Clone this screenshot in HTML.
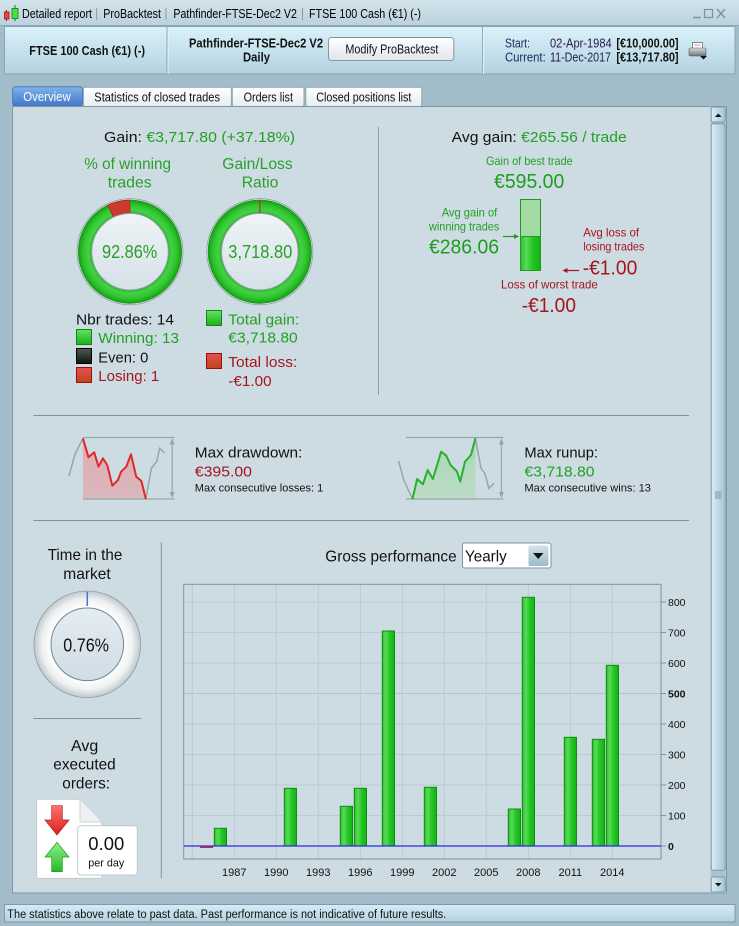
<!DOCTYPE html>
<html><head><meta charset="utf-8">
<style>
html,body{margin:0;padding:0;background:#a2bcc9;}
svg{display:block;}
text{font-family:"Liberation Sans",Arial,sans-serif;}
</style></head><body>
<svg width="739" height="926" viewBox="0 0 739 926" xmlns="http://www.w3.org/2000/svg">
<defs>
 <linearGradient id="gTitle" x1="0" y1="0" x2="0" y2="1"><stop offset="0" stop-color="#d2e3eb"/><stop offset="1" stop-color="#bcd2dd"/></linearGradient>
 <linearGradient id="gHead" x1="0" y1="0" x2="0" y2="1"><stop offset="0" stop-color="#daf2fb"/><stop offset="1" stop-color="#b3d2df"/></linearGradient>
 <linearGradient id="gFoot" x1="0" y1="0" x2="0" y2="1"><stop offset="0" stop-color="#d6edf6"/><stop offset="1" stop-color="#b3d1de"/></linearGradient>
 <linearGradient id="gBtn" x1="0" y1="0" x2="0" y2="1"><stop offset="0" stop-color="#ffffff"/><stop offset="1" stop-color="#e0e6ea"/></linearGradient>
 <linearGradient id="gTabB" x1="0" y1="0" x2="0" y2="1"><stop offset="0" stop-color="#80b2ec"/><stop offset="1" stop-color="#3f76c6"/></linearGradient>
 <linearGradient id="gTabW" x1="0" y1="0" x2="0" y2="1"><stop offset="0" stop-color="#ffffff"/><stop offset="1" stop-color="#e7edf0"/></linearGradient>
 <linearGradient id="gThumb" x1="0" y1="0" x2="1" y2="0"><stop offset="0" stop-color="#d8eef6"/><stop offset="1" stop-color="#a3c5d4"/></linearGradient>
 <linearGradient id="gDrop" x1="0" y1="0" x2="0" y2="1"><stop offset="0" stop-color="#cfe3ec"/><stop offset="1" stop-color="#9dbac8"/></linearGradient>
 <radialGradient id="gRing" cx="0.5" cy="0.5" r="0.5"><stop offset="0" stop-color="#2cc22c"/><stop offset="0.72" stop-color="#1aae1a"/><stop offset="0.8" stop-color="#46d046"/><stop offset="0.9" stop-color="#30c630"/><stop offset="1" stop-color="#159f15"/></radialGradient>
 <radialGradient id="gRingG" cx="0.5" cy="0.5" r="0.5"><stop offset="0" stop-color="#ffffff"/><stop offset="0.68" stop-color="#ffffff"/><stop offset="0.85" stop-color="#eef1f2"/><stop offset="1" stop-color="#c0c8cc"/></radialGradient>
 <linearGradient id="gInner" x1="0" y1="0" x2="0" y2="1"><stop offset="0" stop-color="#eff4f7"/><stop offset="1" stop-color="#d5e0e7"/></linearGradient>
 <linearGradient id="gInner3" x1="0" y1="0" x2="0" y2="1"><stop offset="0" stop-color="#e4edf2"/><stop offset="1" stop-color="#d0dde4"/></linearGradient>
 <linearGradient id="gSqG" x1="0" y1="0" x2="0" y2="1"><stop offset="0" stop-color="#62e262"/><stop offset="1" stop-color="#1cb01c"/></linearGradient>
 <linearGradient id="gSqK" x1="0" y1="0" x2="0" y2="1"><stop offset="0" stop-color="#555"/><stop offset="1" stop-color="#0c1a0c"/></linearGradient>
 <linearGradient id="gSqR" x1="0" y1="0" x2="0" y2="1"><stop offset="0" stop-color="#e45050"/><stop offset="1" stop-color="#c04418"/></linearGradient>
 <linearGradient id="gBar" x1="0" y1="0" x2="1" y2="0"><stop offset="0" stop-color="#2cc02c"/><stop offset="0.3" stop-color="#5cd95c"/><stop offset="0.6" stop-color="#22c822"/><stop offset="1" stop-color="#16b016"/></linearGradient>
 <linearGradient id="gFillR" x1="0" y1="0" x2="0" y2="1"><stop offset="0" stop-color="#e2aab2"/><stop offset="1" stop-color="#d8b8bd"/></linearGradient>
 <linearGradient id="gFillG" x1="0" y1="0" x2="0" y2="1"><stop offset="0" stop-color="#a8d8b4"/><stop offset="1" stop-color="#bcdcc8"/></linearGradient>
 <linearGradient id="gRedA" x1="0" y1="0" x2="0" y2="1"><stop offset="0" stop-color="#ff7070"/><stop offset="1" stop-color="#d82020"/></linearGradient>
 <linearGradient id="gGrnA" x1="0" y1="0" x2="0" y2="1"><stop offset="0" stop-color="#8ef08e"/><stop offset="1" stop-color="#28b828"/></linearGradient>
 <linearGradient id="gPrn" x1="0" y1="0" x2="0" y2="1"><stop offset="0" stop-color="#d8dcde"/><stop offset="1" stop-color="#6e767a"/></linearGradient>
</defs>

<!-- window bg -->
<rect x="0" y="0" width="739" height="926" fill="#a2bcc9"/>
<!-- title bar -->
<rect x="0" y="0" width="739" height="25" fill="url(#gTitle)"/>
<line x1="0" y1="25.5" x2="739" y2="25.5" stroke="#8ea8b5"/>
<!-- app icon -->
<line x1="6.5" y1="10" x2="6.5" y2="21" stroke="#a01010" stroke-width="1"/>
<rect x="4.5" y="12" width="4.5" height="7" fill="#e84848" stroke="#a01010" stroke-width="0.8"/>
<line x1="15" y1="5" x2="15" y2="21" stroke="#0a800a" stroke-width="1"/>
<rect x="12" y="8.5" width="6" height="10" fill="#48e048" stroke="#0a800a" stroke-width="0.8"/>
<text x="22" y="18" font-size="12.5" fill="#000" textLength="70" lengthAdjust="spacingAndGlyphs">Detailed report</text>
<line x1="96.7" y1="8" x2="96.7" y2="20" stroke="#8a9aa4"/>
<text x="103.3" y="18" font-size="12.5" fill="#000" textLength="57.7" lengthAdjust="spacingAndGlyphs">ProBacktest</text>
<line x1="166" y1="8" x2="166" y2="20" stroke="#8a9aa4"/>
<text x="173.4" y="18" font-size="12.5" fill="#000" textLength="123.5" lengthAdjust="spacingAndGlyphs">Pathfinder-FTSE-Dec2 V2</text>
<line x1="302.5" y1="8" x2="302.5" y2="20" stroke="#8a9aa4"/>
<text x="309" y="18" font-size="12.5" fill="#000" textLength="112" lengthAdjust="spacingAndGlyphs">FTSE 100 Cash (€1) (-)</text>
<!-- window controls -->
<line x1="693" y1="17.5" x2="701" y2="17.5" stroke="#7e929c" stroke-width="1.5"/>
<rect x="704.5" y="9.5" width="8" height="8" fill="none" stroke="#7e929c" stroke-width="1.2"/>
<line x1="717" y1="9" x2="725" y2="18" stroke="#7e929c" stroke-width="1.4"/>
<line x1="725" y1="9" x2="717" y2="18" stroke="#7e929c" stroke-width="1.4"/>

<!-- header -->
<rect x="4.5" y="26.5" width="730.5" height="47.5" fill="url(#gHead)" stroke="#8aa4b1"/>
<line x1="167" y1="27" x2="167" y2="74" stroke="#8aa4b1"/>
<line x1="168" y1="27" x2="168" y2="74" stroke="#eaf6fb"/>
<line x1="482.6" y1="27" x2="482.6" y2="74" stroke="#8aa4b1"/>
<line x1="483.6" y1="27" x2="483.6" y2="74" stroke="#eaf6fb"/>
<text x="29.3" y="55" font-size="12.5" font-weight="bold" fill="#111" textLength="115.7" lengthAdjust="spacingAndGlyphs">FTSE 100 Cash (€1) (-)</text>
<text x="189" y="47.5" font-size="12.5" font-weight="bold" fill="#111" textLength="134" lengthAdjust="spacingAndGlyphs">Pathfinder-FTSE-Dec2 V2</text>
<text x="243" y="61.5" font-size="12.5" font-weight="bold" fill="#111" textLength="27" lengthAdjust="spacingAndGlyphs">Daily</text>
<rect x="328.5" y="37.5" width="125.3" height="23" rx="3" fill="url(#gBtn)" stroke="#8797a2"/>
<text x="345.4" y="53.3" font-size="12.5" fill="#111" textLength="93" lengthAdjust="spacingAndGlyphs">Modify ProBacktest</text>
<text x="505" y="47.5" font-size="12.5" fill="#1b2a5c" textLength="25" lengthAdjust="spacingAndGlyphs">Start:</text>
<text x="550" y="47.5" font-size="12.5" fill="#2b1a4e" textLength="61.7" lengthAdjust="spacingAndGlyphs">02-Apr-1984</text>
<text x="616.4" y="47.5" font-size="12.5" font-weight="bold" fill="#111" textLength="62.2" lengthAdjust="spacingAndGlyphs">[€10,000.00]</text>
<text x="505" y="61.5" font-size="12.5" fill="#1b2a5c" textLength="40.7" lengthAdjust="spacingAndGlyphs">Current:</text>
<text x="550" y="61.5" font-size="12.5" fill="#2b1a4e" textLength="61" lengthAdjust="spacingAndGlyphs">11-Dec-2017</text>
<text x="616.4" y="61.5" font-size="12.5" font-weight="bold" fill="#111" textLength="62.2" lengthAdjust="spacingAndGlyphs">[€13,717.80]</text>
<!-- printer -->
<rect x="692.5" y="42.5" width="10" height="7" fill="#ffffff" stroke="#888"/>
<line x1="694.5" y1="45" x2="700.5" y2="45" stroke="#aaa"/>
<rect x="689" y="48" width="17" height="8" rx="1.5" fill="url(#gPrn)" stroke="#555" stroke-width="0.6"/>
<polygon points="700,56 707,56 703.5,59.5" fill="#111"/>

<!-- tabs -->
<rect x="12.7" y="86.7" width="69.8" height="19.8" rx="3" fill="url(#gTabB)" stroke="#4a78b8"/>
<text x="23.3" y="101.2" font-size="12.5" fill="#ffffff" textLength="47.4" lengthAdjust="spacingAndGlyphs">Overview</text>
<rect x="83.4" y="87.2" width="148" height="19.3" rx="2" fill="url(#gTabW)" stroke="#8fa5b1"/>
<text x="94.3" y="101.5" font-size="12.5" fill="#111" textLength="125.7" lengthAdjust="spacingAndGlyphs">Statistics of closed trades</text>
<rect x="232.3" y="87.2" width="71.7" height="19.3" rx="2" fill="url(#gTabW)" stroke="#8fa5b1"/>
<text x="243.6" y="101.5" font-size="12.5" fill="#111" textLength="49.4" lengthAdjust="spacingAndGlyphs">Orders list</text>
<rect x="305.8" y="87.2" width="116" height="19.3" rx="2" fill="url(#gTabW)" stroke="#8fa5b1"/>
<text x="316.2" y="101.5" font-size="12.5" fill="#111" textLength="95.2" lengthAdjust="spacingAndGlyphs">Closed positions list</text>

<!-- content panel -->
<rect x="12.5" y="106.5" width="714" height="786.5" fill="#cddce3" stroke="#7f98a6"/>

<!-- scrollbar -->
<rect x="710.7" y="106.5" width="15" height="786.5" fill="#a9c4d1"/>
<rect x="711.2" y="107" width="14" height="15" rx="2" fill="url(#gThumb)" stroke="#7f98a6"/>
<polygon points="715,117 721.5,117 718.25,113.5" fill="#111"/>
<rect x="711.2" y="123.7" width="14" height="746.6" rx="2" fill="url(#gThumb)" stroke="#7f98a6"/>
<line x1="715" y1="492" x2="721.5" y2="492" stroke="#7f98a6"/>
<line x1="715" y1="494" x2="721.5" y2="494" stroke="#7f98a6"/>
<line x1="715" y1="496" x2="721.5" y2="496" stroke="#7f98a6"/>
<line x1="715" y1="498" x2="721.5" y2="498" stroke="#7f98a6"/>
<rect x="711.2" y="877" width="14" height="15" rx="2" fill="url(#gThumb)" stroke="#7f98a6"/>
<polygon points="715,883 721.5,883 718.25,886.5" fill="#111"/>

<!-- ============ top left ============ -->
<text x="104" y="142" font-size="15" fill="#111" textLength="191" lengthAdjust="spacingAndGlyphs">Gain: <tspan fill="#22a022">€3,717.80 (+37.18%)</tspan></text>
<text x="84.3" y="169" font-size="16" fill="#2a9e2a" textLength="86.7" lengthAdjust="spacingAndGlyphs">% of winning</text>
<text x="107.7" y="187.5" font-size="16" fill="#2a9e2a" textLength="44" lengthAdjust="spacingAndGlyphs">trades</text>
<text x="222.3" y="169" font-size="16" fill="#2a9e2a" textLength="70.4" lengthAdjust="spacingAndGlyphs">Gain/Loss</text>
<text x="241.7" y="187.5" font-size="16" fill="#2a9e2a" textLength="36.6" lengthAdjust="spacingAndGlyphs">Ratio</text>

<!-- donut 1 -->
<circle cx="130" cy="251.7" r="53" fill="#e4eaed" stroke="#8e9ca4" stroke-width="0.8"/>
<circle cx="130" cy="251.7" r="51.7" fill="url(#gRing)" stroke="#139313" stroke-width="0.6"/>
<path d="M130 200 A51.7 51.7 0 0 0 107.58 205.11 L113.39 217.19 A38.3 38.3 0 0 1 130 213.4 Z" fill="#cc3a2c" stroke="#9a2a18" stroke-width="0.6"/>
<circle cx="130" cy="251.7" r="38.3" fill="url(#gInner)" stroke="#8e9ca4" stroke-width="1"/>
<text x="102" y="258" font-size="18" fill="#26a026" textLength="55.3" lengthAdjust="spacingAndGlyphs">92.86%</text>

<!-- donut 2 -->
<circle cx="259.8" cy="251.7" r="53" fill="#e4eaed" stroke="#8e9ca4" stroke-width="0.8"/>
<circle cx="259.8" cy="251.7" r="51.7" fill="url(#gRing)" stroke="#139313" stroke-width="0.6"/>
<line x1="259.8" y1="200" x2="259.8" y2="213.4" stroke="#d02020" stroke-width="1.2"/>
<circle cx="259.8" cy="251.7" r="38.3" fill="url(#gInner)" stroke="#8e9ca4" stroke-width="1"/>
<text x="228.3" y="258" font-size="18" fill="#26a026" textLength="64" lengthAdjust="spacingAndGlyphs">3,718.80</text>

<!-- legend -->
<text x="76" y="324.5" font-size="15" fill="#111" textLength="98" lengthAdjust="spacingAndGlyphs">Nbr trades: 14</text>
<rect x="76.5" y="329.5" width="15" height="15" fill="url(#gSqG)" stroke="#128812"/>
<text x="98.3" y="343" font-size="15" fill="#22a022" textLength="80.7" lengthAdjust="spacingAndGlyphs">Winning: 13</text>
<rect x="76.5" y="348.5" width="15" height="15" fill="url(#gSqK)" stroke="#000"/>
<text x="98.3" y="362.4" font-size="15" fill="#111" textLength="50" lengthAdjust="spacingAndGlyphs">Even: 0</text>
<rect x="76.5" y="367.5" width="15" height="15" fill="url(#gSqR)" stroke="#9a1010"/>
<text x="98.3" y="381" font-size="15" fill="#a8141c" textLength="61" lengthAdjust="spacingAndGlyphs">Losing: 1</text>

<rect x="206.5" y="310.5" width="15" height="15" fill="url(#gSqG)" stroke="#128812"/>
<text x="228.3" y="324.4" font-size="15" fill="#22a022" textLength="71" lengthAdjust="spacingAndGlyphs">Total gain:</text>
<text x="228.3" y="342.7" font-size="15" fill="#22a022" textLength="69.4" lengthAdjust="spacingAndGlyphs">€3,718.80</text>
<rect x="206.5" y="353.5" width="15" height="15" fill="url(#gSqR)" stroke="#9a1010"/>
<text x="228.3" y="367" font-size="15" fill="#a8141c" textLength="69" lengthAdjust="spacingAndGlyphs">Total loss:</text>
<text x="228.3" y="386" font-size="15" fill="#a8141c" textLength="43.4" lengthAdjust="spacingAndGlyphs">-€1.00</text>

<!-- separator -->
<line x1="378.5" y1="127" x2="378.5" y2="395" stroke="#8a9eab"/>

<!-- ============ top right ============ -->
<text x="451.7" y="142" font-size="15" fill="#111" textLength="175" lengthAdjust="spacingAndGlyphs">Avg gain: <tspan fill="#22a022">€265.56 / trade</tspan></text>
<text x="486" y="165" font-size="12" fill="#22a022" textLength="86.7" lengthAdjust="spacingAndGlyphs">Gain of best trade</text>
<text x="494" y="188" font-size="20" fill="#1e9c1e" textLength="70.3" lengthAdjust="spacingAndGlyphs">€595.00</text>
<rect x="520.5" y="199.5" width="20" height="37" fill="#a3d9a3" stroke="#1e9a1e"/>
<rect x="520.5" y="236.5" width="20" height="34" fill="url(#gBar)" stroke="#1e9a1e"/>
<text x="441.7" y="216.6" font-size="12" fill="#22a022" textLength="55.6" lengthAdjust="spacingAndGlyphs">Avg gain of</text>
<text x="429" y="230.6" font-size="12" fill="#22a022" textLength="70.3" lengthAdjust="spacingAndGlyphs">winning trades</text>
<text x="429" y="253.7" font-size="20" fill="#1e9c1e" textLength="70" lengthAdjust="spacingAndGlyphs">€286.06</text>
<line x1="503" y1="236.5" x2="515" y2="236.5" stroke="#1e9a1e" stroke-width="1.2"/>
<polygon points="519,236.5 514,234 514,239" fill="#1e9a1e"/>
<text x="583.3" y="236.6" font-size="12" fill="#a8141c" textLength="55.7" lengthAdjust="spacingAndGlyphs">Avg loss of</text>
<text x="583.3" y="250.6" font-size="12" fill="#a8141c" textLength="61" lengthAdjust="spacingAndGlyphs">losing trades</text>
<line x1="566" y1="270.5" x2="579" y2="270.5" stroke="#a8141c" stroke-width="1.2"/>
<polygon points="562.5,270.5 567.5,268 567.5,273" fill="#a8141c"/>
<text x="582.7" y="274.7" font-size="20" fill="#a8141c" textLength="54.6" lengthAdjust="spacingAndGlyphs">-€1.00</text>
<text x="501" y="288.3" font-size="12" fill="#a8141c" textLength="96.7" lengthAdjust="spacingAndGlyphs">Loss of worst trade</text>
<text x="521.7" y="312" font-size="20" fill="#a8141c" textLength="54.3" lengthAdjust="spacingAndGlyphs">-€1.00</text>

<!-- ============ middle ============ -->
<line x1="33.5" y1="415.5" x2="689" y2="415.5" stroke="#7d939f"/>
<line x1="33.5" y1="520.5" x2="689" y2="520.5" stroke="#7d939f"/>

<!-- drawdown mini chart -->
<polygon points="82.9,438.3 88.5,457.3 94.2,452.3 98.5,466.7 102.9,458.3 107.2,465 112.4,485.7 118,480 121.1,471.7 126.3,466.7 131,454.3 136.2,476.7 141.4,481 145.8,499 82.9,499" fill="url(#gFillR)"/>
<line x1="83" y1="437.5" x2="174.4" y2="437.5" stroke="#9aa4aa" stroke-width="1.2"/>
<line x1="83" y1="499" x2="174.4" y2="499" stroke="#9aa4aa" stroke-width="1.2"/>
<line x1="172.2" y1="441" x2="172.2" y2="495" stroke="#9aa4aa" stroke-width="1.2"/>
<polygon points="172.2,438 169.8,444.5 174.6,444.5" fill="#9aa4aa"/>
<polygon points="172.2,498.5 169.8,492 174.6,492" fill="#9aa4aa"/>
<polyline points="69,476 74.7,455 82.9,438.3" fill="none" stroke="#9aa4aa" stroke-width="1.5"/>
<polyline points="145.8,499 151.4,468.3 156.6,461.7 159.7,448.3 164.4,452.7" fill="none" stroke="#9aa4aa" stroke-width="1.5"/>
<polyline points="82.9,438.3 88.5,457.3 94.2,452.3 98.5,466.7 102.9,458.3 107.2,465 112.4,485.7 118,480 121.1,471.7 126.3,466.7 131,454.3 136.2,476.7 141.4,481 145.8,499" fill="none" stroke="#e02828" stroke-width="2" stroke-linejoin="round"/>
<text x="194.8" y="457.7" font-size="15" fill="#111" textLength="107.5" lengthAdjust="spacingAndGlyphs">Max drawdown:</text>
<text x="194.8" y="476.4" font-size="15" fill="#a8141c" textLength="57.2" lengthAdjust="spacingAndGlyphs">€395.00</text>
<text x="194.8" y="491.3" font-size="11" fill="#111" textLength="128.4" lengthAdjust="spacingAndGlyphs">Max consecutive losses: 1</text>

<!-- runup mini chart -->
<polygon points="412.5,499 417.2,479 422.9,484.3 427.7,470 432.9,479 441.1,451.7 446.3,455.7 450.6,465 457.1,471.7 460.2,481.7 465,461.7 471,455 475.4,438.3 475.4,499" fill="url(#gFillG)"/>
<line x1="406" y1="437.5" x2="503.5" y2="437.5" stroke="#9aa4aa" stroke-width="1.2"/>
<line x1="406" y1="499" x2="503.5" y2="499" stroke="#9aa4aa" stroke-width="1.2"/>
<line x1="501.4" y1="441" x2="501.4" y2="495" stroke="#9aa4aa" stroke-width="1.2"/>
<polygon points="501.4,438 499,444.5 503.8,444.5" fill="#9aa4aa"/>
<polygon points="501.4,498.5 499,492 503.8,492" fill="#9aa4aa"/>
<polyline points="398.6,461 403.8,480 412.5,499" fill="none" stroke="#9aa4aa" stroke-width="1.5"/>
<polyline points="475.4,438.3 481,468.3 484.9,473.3 488.8,488.3 494,483.3" fill="none" stroke="#9aa4aa" stroke-width="1.5"/>
<polyline points="412.5,499 417.2,479 422.9,484.3 427.7,470 432.9,479 441.1,451.7 446.3,455.7 450.6,465 457.1,471.7 460.2,481.7 465,461.7 471,455 475.4,438.3" fill="none" stroke="#2ab02a" stroke-width="2" stroke-linejoin="round"/>
<text x="524.4" y="457.7" font-size="15" fill="#111" textLength="73.6" lengthAdjust="spacingAndGlyphs">Max runup:</text>
<text x="524.4" y="476.4" font-size="15" fill="#22a022" textLength="70.2" lengthAdjust="spacingAndGlyphs">€3,718.80</text>
<text x="524.4" y="491.3" font-size="11" fill="#111" textLength="126.6" lengthAdjust="spacingAndGlyphs">Max consecutive wins: 13</text>

<!-- ============ bottom left ============ -->
<text x="47.7" y="560" font-size="16" fill="#111" textLength="74.6" lengthAdjust="spacingAndGlyphs">Time in the</text>
<text x="63.3" y="579" font-size="16" fill="#111" textLength="47.4" lengthAdjust="spacingAndGlyphs">market</text>
<circle cx="87.3" cy="644.3" r="53.3" fill="url(#gRingG)" stroke="#8e9ca4" stroke-width="0.8"/>
<circle cx="87.3" cy="644.3" r="36.3" fill="url(#gInner3)" stroke="#6f8794" stroke-width="1"/>
<line x1="87.3" y1="591.8" x2="87.3" y2="606" stroke="#3c78d0" stroke-width="1.5"/>
<text x="63.3" y="651.5" font-size="18" fill="#111" textLength="45.7" lengthAdjust="spacingAndGlyphs">0.76%</text>
<line x1="33.3" y1="718.5" x2="141" y2="718.5" stroke="#7d939f"/>
<text x="71" y="750.8" font-size="16" fill="#111" textLength="27.3" lengthAdjust="spacingAndGlyphs">Avg</text>
<text x="53.3" y="769.5" font-size="16" fill="#111" textLength="62.4" lengthAdjust="spacingAndGlyphs">executed</text>
<text x="62.3" y="788.3" font-size="16" fill="#111" textLength="47.7" lengthAdjust="spacingAndGlyphs">orders:</text>
<!-- document icon -->
<path d="M36.7 799.3 H80 L101.7 822 V878.3 H36.7 Z" fill="#ffffff" stroke="#c2cacd" stroke-width="0.8"/>
<path d="M80 799.3 V822 H101.7" fill="#eef1f3" stroke="#c2cacd" stroke-width="0.8"/>
<polygon points="51.7,805.7 62.3,805.7 62.3,820 69,820 57,835 45,820 51.7,820" fill="url(#gRedA)" stroke="#b01818" stroke-width="0.7"/>
<polygon points="57,842.3 69,857 62.3,857 62.3,871.7 51.7,871.7 51.7,857 45,857" fill="url(#gGrnA)" stroke="#1a9a1a" stroke-width="0.7"/>
<rect x="77.7" y="825.7" width="59.6" height="49.3" rx="3" fill="#ffffff" stroke="#c2cacd"/>
<text x="88.3" y="849.8" font-size="18" fill="#111" textLength="36" lengthAdjust="spacingAndGlyphs">0.00</text>
<text x="88.3" y="866.3" font-size="11" fill="#111" textLength="36" lengthAdjust="spacingAndGlyphs">per day</text>
<line x1="161.3" y1="542.3" x2="161.3" y2="878.3" stroke="#7d939f"/>

<!-- ============ chart ============ -->
<text x="325.3" y="561.5" font-size="16" fill="#111" textLength="131.3" lengthAdjust="spacingAndGlyphs">Gross performance</text>
<rect x="462.5" y="543" width="88.5" height="25" rx="2" fill="#ffffff" stroke="#7d939f"/>
<text x="465" y="561.5" font-size="16" fill="#111" textLength="41.7" lengthAdjust="spacingAndGlyphs">Yearly</text>
<rect x="528.5" y="545.5" width="20" height="20.5" rx="2" fill="url(#gDrop)"/>
<polygon points="533,553 543.5,553 538.25,559" fill="#111"/>

<!-- grid -->
<g stroke="#bccad1" stroke-width="1">
<line x1="184" y1="602" x2="661" y2="602"/>
<line x1="184" y1="632.5" x2="661" y2="632.5"/>
<line x1="184" y1="663" x2="661" y2="663"/>
<line x1="184" y1="693.5" x2="661" y2="693.5" stroke="#b4c2c9"/>
<line x1="184" y1="724" x2="661" y2="724"/>
<line x1="184" y1="754.5" x2="661" y2="754.5"/>
<line x1="184" y1="785" x2="661" y2="785"/>
<line x1="184" y1="815.5" x2="661" y2="815.5"/>
<line x1="192.3" y1="585" x2="192.3" y2="858.5"/>
<line x1="234.3" y1="585" x2="234.3" y2="858.5"/>
<line x1="276.3" y1="585" x2="276.3" y2="858.5"/>
<line x1="318.3" y1="585" x2="318.3" y2="858.5"/>
<line x1="360.3" y1="585" x2="360.3" y2="858.5"/>
<line x1="402.3" y1="585" x2="402.3" y2="858.5"/>
<line x1="444.3" y1="585" x2="444.3" y2="858.5"/>
<line x1="486.3" y1="585" x2="486.3" y2="858.5"/>
<line x1="528.3" y1="585" x2="528.3" y2="858.5"/>
<line x1="570.3" y1="585" x2="570.3" y2="858.5"/>
<line x1="612.3" y1="585" x2="612.3" y2="858.5"/>
</g>
<rect x="183.7" y="584.3" width="477.3" height="274.7" fill="none" stroke="#7d939f"/>

<!-- bars -->
<g fill="url(#gBar)" stroke="#0f8f0f" stroke-width="1">
<rect x="214.3" y="828.3" width="12.2" height="17.7"/>
<rect x="284.3" y="788.3" width="12.2" height="57.7"/>
<rect x="340.3" y="806.3" width="12.2" height="39.7"/>
<rect x="354.3" y="788.3" width="12.2" height="57.7"/>
<rect x="382.3" y="631" width="12.2" height="215"/>
<rect x="424.3" y="787.3" width="12.2" height="58.7"/>
<rect x="508.3" y="809" width="12.2" height="37"/>
<rect x="522.3" y="597.3" width="12.2" height="248.7"/>
<rect x="564.3" y="737.3" width="12.2" height="108.7"/>
<rect x="592.3" y="739.3" width="12.2" height="106.7"/>
<rect x="606.3" y="665.3" width="12.2" height="180.7"/>
</g>
<line x1="200" y1="847.3" x2="213" y2="847.3" stroke="#c02020" stroke-width="1.3"/>
<line x1="184" y1="846" x2="661" y2="846" stroke="#2a2ae0" stroke-width="1.3"/>

<!-- y ticks -->
<g stroke="#7d939f">
<line x1="661" y1="602" x2="666" y2="602"/>
<line x1="661" y1="632.5" x2="666" y2="632.5"/>
<line x1="661" y1="663" x2="666" y2="663"/>
<line x1="661" y1="693.5" x2="666" y2="693.5"/>
<line x1="661" y1="724" x2="666" y2="724"/>
<line x1="661" y1="754.5" x2="666" y2="754.5"/>
<line x1="661" y1="785" x2="666" y2="785"/>
<line x1="661" y1="815.5" x2="666" y2="815.5"/>
<line x1="661" y1="846" x2="666" y2="846"/>
</g>
<g font-size="10.5" fill="#111">
<text x="668" y="606">800</text>
<text x="668" y="636.5">700</text>
<text x="668" y="667">600</text>
<text x="668" y="697.5" font-weight="bold">500</text>
<text x="668" y="728">400</text>
<text x="668" y="758.5">300</text>
<text x="668" y="789">200</text>
<text x="668" y="819.5">100</text>
<text x="668" y="850" font-weight="bold">0</text>
</g>
<g font-size="11" fill="#111" text-anchor="middle">
<text x="234.3" y="876">1987</text>
<text x="276.3" y="876">1990</text>
<text x="318.3" y="876">1993</text>
<text x="360.3" y="876">1996</text>
<text x="402.3" y="876">1999</text>
<text x="444.3" y="876">2002</text>
<text x="486.3" y="876">2005</text>
<text x="528.3" y="876">2008</text>
<text x="570.3" y="876">2011</text>
<text x="612.3" y="876">2014</text>
</g>

<!-- footer -->
<rect x="4.5" y="904.5" width="730.5" height="17.5" fill="url(#gFoot)" stroke="#7f9aa8"/>
<text x="7.3" y="918" font-size="11.5" fill="#111" textLength="439" lengthAdjust="spacingAndGlyphs">The statistics above relate to past data. Past performance is not indicative of future results.</text>
</svg>
</body></html>
